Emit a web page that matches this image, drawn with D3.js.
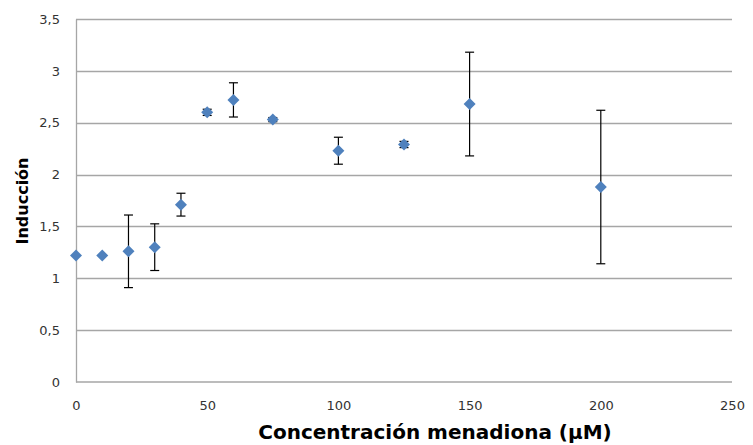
<!DOCTYPE html>
<html>
<head>
<meta charset="utf-8">
<script src="https://cdn.jsdelivr.net/npm/d3@7"></script>
<style>
  body { margin: 0; background: #fff; }
  svg { display: block; }
  .tick text { font-family: "DejaVu Sans", sans-serif; font-size: 13px; fill: #333; }
  .title { font-family: "DejaVu Sans", sans-serif; font-weight: bold; fill: #000; }
</style>
</head>
<body>
<svg id="chart" width="753" height="445"></svg>
<script>
// concentracion (uM), induccion media, error
const conc = [0, 10, 20, 30, 40, 50, 60, 75, 100, 125, 150, 200];
const induccion = [1.22, 1.22, 1.26, 1.30, 1.71, 2.60, 2.72, 2.53, 2.23, 2.29, 2.68, 1.88];
const errores = [0, 0, 0.35, 0.225, 0.11, 0.03, 0.165, 0.02, 0.13, 0.03, 0.5, 0.74];
const xTicks = [0, 50, 100, 150, 200, 250];
const yTicks = [0, 0.5, 1, 1.5, 2, 2.5, 3, 3.5];

const margin = {top: 19, right: 21, bottom: 63, left: 76};
const width = 753 - margin.left - margin.right;
const height = 445 - margin.top - margin.bottom;

const svg = d3.select("#chart")
    .append("g")
    .attr("transform", `translate(${margin.left},${margin.top})`);

const x = d3.scaleLinear().domain([0, 250]).range([0, width]);
const y = d3.scaleLinear().domain([0, 3.5]).range([height, 0]);

const fmt = d => String(d).replace(".", ",");

// horizontal gridlines
svg.append("g")
    .selectAll("line")
    .data(yTicks.slice(1))
    .join("line")
    .attr("x1", 0)
    .attr("x2", width)
    .attr("y1", d => Math.round(y(d)) + 0.5)
    .attr("y2", d => Math.round(y(d)) + 0.5)
    .attr("stroke", "#a6a6a6")
    .attr("stroke-width", 1.3);

const yAxis = svg.append("g")
    .call(d3.axisLeft(y).tickValues(yTicks).tickFormat(fmt).tickSize(0).tickPadding(16));
yAxis.select(".domain").attr("stroke", "#a6a6a6").attr("stroke-width", 1.3);

const xAxis = svg.append("g")
    .attr("transform", `translate(0,${height})`)
    .call(d3.axisBottom(x).tickValues(xTicks).tickFormat(fmt).tickSize(0).tickPadding(19));
xAxis.select(".domain").remove();
svg.append("line")
    .attr("x1", 0).attr("x2", width)
    .attr("y1", height).attr("y2", height)
    .attr("stroke", "#a6a6a6").attr("stroke-width", 1.3);

const data = conc.map((c, i) => ({c: c, v: induccion[i], e: errores[i]}));

// error bars
const eb = svg.append("g")
    .selectAll("g")
    .data(data.filter(d => d.e > 0))
    .join("g")
    .attr("stroke", "#000")
    .attr("stroke-width", 1.2);

eb.append("line")
    .attr("x1", d => x(d.c)).attr("x2", d => x(d.c))
    .attr("y1", d => y(d.v - d.e)).attr("y2", d => y(d.v + d.e));
eb.append("line")
    .attr("x1", d => x(d.c) - 4.5).attr("x2", d => x(d.c) + 4.5)
    .attr("y1", d => y(d.v + d.e)).attr("y2", d => y(d.v + d.e));
eb.append("line")
    .attr("x1", d => x(d.c) - 4.5).attr("x2", d => x(d.c) + 4.5)
    .attr("y1", d => y(d.v - d.e)).attr("y2", d => y(d.v - d.e));

// diamond markers
const r = 6;
svg.append("g")
    .selectAll("path")
    .data(data)
    .join("path")
    .attr("d", d => {
        const cx = x(d.c), cy = y(d.v);
        return `M${cx},${cy - r}L${cx + r},${cy}L${cx},${cy + r}L${cx - r},${cy}Z`;
    })
    .attr("fill", "#4f81bd");

// axis titles
d3.select("#chart").append("text")
    .attr("class", "title")
    .attr("text-anchor", "middle")
    .attr("x", 435)
    .attr("y", 439)
    .style("font-size", "20px")
    .text("Concentración menadiona (µM)");

d3.select("#chart").append("text")
    .attr("class", "title")
    .attr("text-anchor", "middle")
    .attr("transform", "translate(28,201) rotate(-90)")
    .style("font-size", "16px")
    .text("Inducción");
</script>
</body>
</html>
